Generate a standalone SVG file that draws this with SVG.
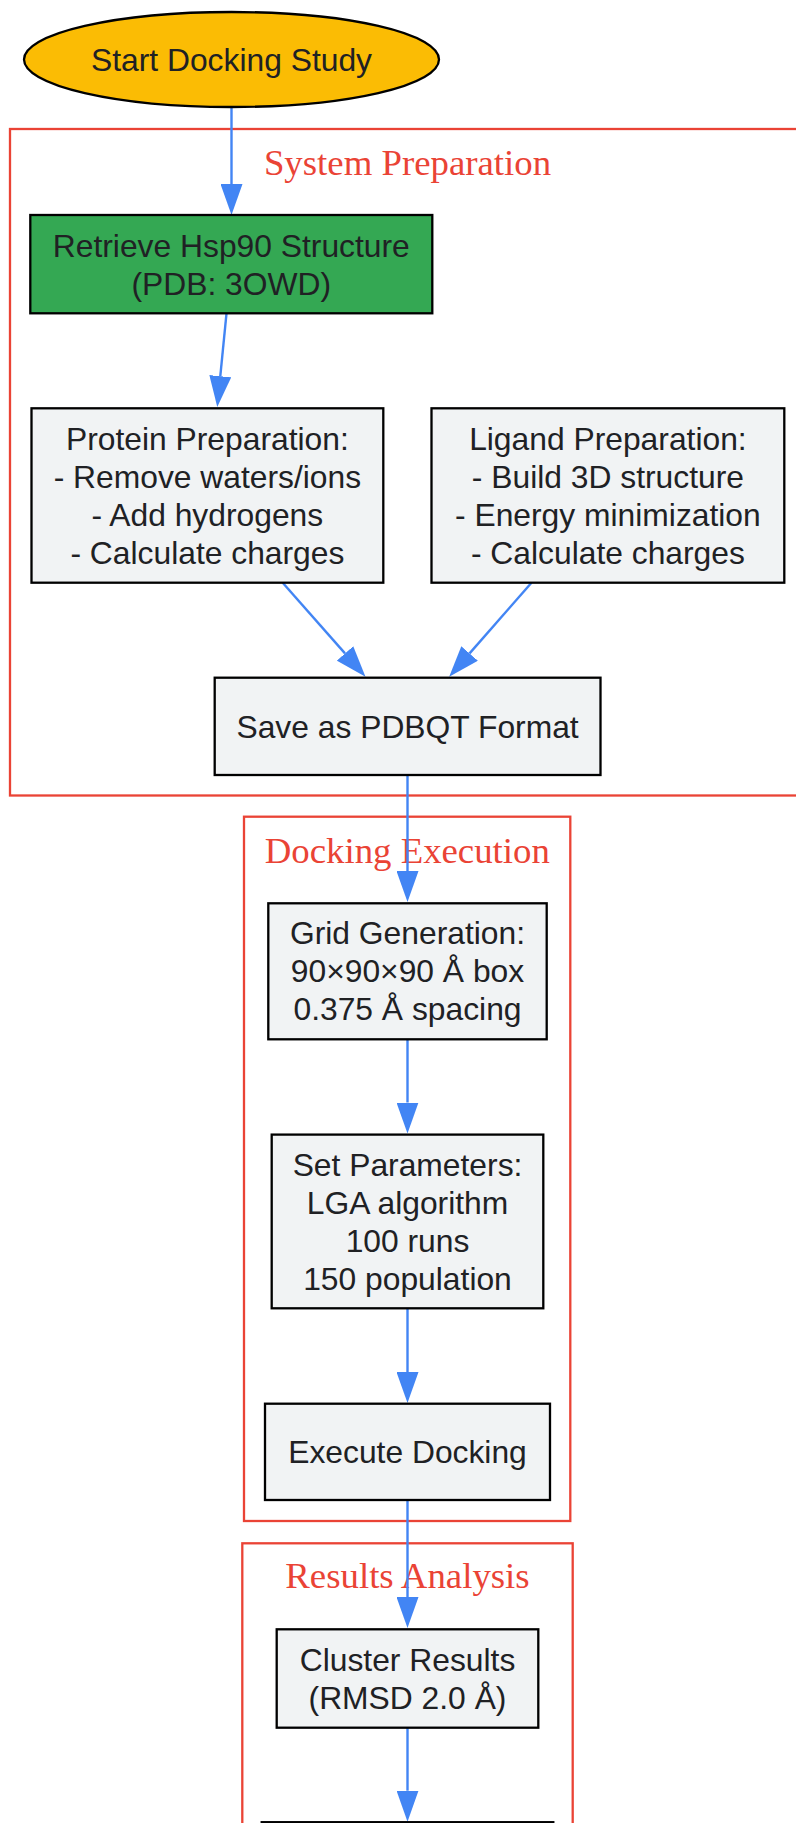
<svg xmlns="http://www.w3.org/2000/svg" width="796" height="1823" viewBox="0 0 796 1823">
<style>
.bg{fill:#ffffff}
.cl{fill:none;stroke:#EA4335;stroke-width:2.3}
.cll{font-family:"Liberation Serif","Times New Roman",serif;font-size:36.8px;fill:#EA4335;text-anchor:middle}
.nd{fill:#F1F3F4;stroke:#000000;stroke-width:2.3}
.tx{font-family:"Liberation Sans",Arial,sans-serif;font-size:31.8px;fill:#202124;text-anchor:middle}
.ed{fill:none;stroke:#4285F4;stroke-width:2.4}
</style>
<defs>
<marker id="ah" markerUnits="userSpaceOnUse" viewBox="0 0 31 22" refX="0" refY="11" markerWidth="31" markerHeight="22" orient="auto">
<path d="M0,0 L31,11 L0,22 z" fill="#4285F4"/>
</marker>
</defs>
<rect class="bg" x="0" y="0" width="796" height="1823"/>

<g id="cluster_prep">
<rect class="cl" x="10" y="129" width="800" height="666.5"/>
<text class="cll" x="407.5" y="175">System Preparation</text>
</g>
<g id="cluster_dock">
<rect class="cl" x="244" y="816.7" width="326.3" height="704.3"/>
<text class="cll" x="407.3" y="862.7">Docking Execution</text>
</g>
<g id="cluster_results">
<rect class="cl" x="242.3" y="1543.3" width="330.4" height="400"/>
<text class="cll" x="407.5" y="1588.3">Results Analysis</text>
</g>

<g id="connectors">
<path class="ed" d="M231.5,107 L231.5,184" marker-end="url(#ah)"/>
<path class="ed" d="M226.5,313.3 L220.3,376.2" marker-end="url(#ah)"/>
<path class="ed" d="M282.7,582.7 L345,653.4" marker-end="url(#ah)"/>
<path class="ed" d="M531.5,582.7 L469.6,653.4" marker-end="url(#ah)"/>
<path class="ed" d="M407.5,775 L407.5,871" marker-end="url(#ah)"/>
<path class="ed" d="M407.5,1039.3 L407.5,1102.5" marker-end="url(#ah)"/>
<path class="ed" d="M407.5,1308.3 L407.5,1372" marker-end="url(#ah)"/>
<path class="ed" d="M407.5,1500 L407.5,1597" marker-end="url(#ah)"/>
<path class="ed" d="M407.5,1727.7 L407.5,1790.7" marker-end="url(#ah)"/>
</g>

<g id="start">
<ellipse cx="231.5" cy="59.5" rx="207.5" ry="47.5" fill="#FBBC04" stroke="#000000" stroke-width="2.3"/>
<text class="tx" x="231.5" y="70.8">Start Docking Study</text>
</g>
<g id="retrieve">
<rect class="nd" x="30.3" y="215" width="402" height="98.3" style="fill:#34A853"/>
<text class="tx" x="231.3" y="256.5">Retrieve Hsp90 Structure</text>
<text class="tx" x="231.3" y="294.5">(PDB: 3OWD)</text>
</g>
<g id="protein">
<rect class="nd" x="31.5" y="408.3" width="351.8" height="174.4"/>
<text class="tx" x="207.4" y="449.8">Protein Preparation:</text>
<text class="tx" x="207.4" y="487.8">- Remove waters/ions</text>
<text class="tx" x="207.4" y="525.8">- Add hydrogens</text>
<text class="tx" x="207.4" y="563.8">- Calculate charges</text>
</g>
<g id="ligand">
<rect class="nd" x="431.5" y="408.3" width="352.8" height="174.4"/>
<text class="tx" x="607.9" y="449.8">Ligand Preparation:</text>
<text class="tx" x="607.9" y="487.8">- Build 3D structure</text>
<text class="tx" x="607.9" y="525.8">- Energy minimization</text>
<text class="tx" x="607.9" y="563.8">- Calculate charges</text>
</g>
<g id="save">
<rect class="nd" x="214.7" y="677.7" width="385.8" height="97.3"/>
<text class="tx" x="407.6" y="737.6">Save as PDBQT Format</text>
</g>
<g id="grid">
<rect class="nd" x="268.3" y="903.3" width="278.4" height="136"/>
<text class="tx" x="407.5" y="944.4">Grid Generation:</text>
<text class="tx" x="407.5" y="982.4">90×90×90 Å box</text>
<text class="tx" x="407.5" y="1020.4">0.375 Å spacing</text>
</g>
<g id="params">
<rect class="nd" x="271.7" y="1134.6" width="271.6" height="173.7"/>
<text class="tx" x="407.5" y="1175.7">Set Parameters:</text>
<text class="tx" x="407.5" y="1213.7">LGA algorithm</text>
<text class="tx" x="407.5" y="1251.7">100 runs</text>
<text class="tx" x="407.5" y="1289.7">150 population</text>
</g>
<g id="execute">
<rect class="nd" x="265" y="1403.7" width="285" height="96.3"/>
<text class="tx" x="407.5" y="1463.3">Execute Docking</text>
</g>
<g id="cluster_node">
<rect class="nd" x="276.7" y="1629.3" width="261.6" height="98.4"/>
<text class="tx" x="407.5" y="1670.8">Cluster Results</text>
<text class="tx" x="407.5" y="1708.8">(RMSD 2.0 Å)</text>
</g>
<g id="next_node">
<rect class="nd" x="261.7" y="1822.2" width="291.6" height="98"/>
</g>
</svg>
